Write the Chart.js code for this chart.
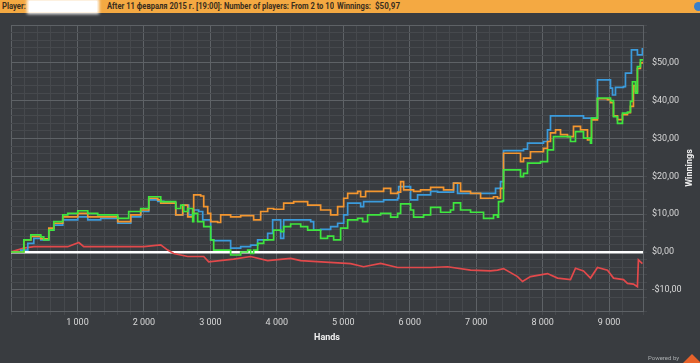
<!DOCTYPE html>
<html><head><meta charset="utf-8">
<script src="https://cdn.jsdelivr.net/npm/chart.js@4"></script>
<style>
html,body{margin:0;padding:0;background:#393c40;}
#wrap{position:relative;width:700px;height:363px;overflow:hidden;background:#393c40;}
#c{position:absolute;left:0;top:0;}
#hdr{position:absolute;left:0;top:0;width:700px;height:13px;background:#f4a942;font-family:Roboto,"Liberation Sans",sans-serif;font-size:9px;font-weight:bold;color:#3b2f1e;}
#hdr span{position:absolute;top:1px;white-space:nowrap;line-height:11px;transform-origin:0 50%;}
#box{position:absolute;left:29px;top:1px;width:68px;height:11px;background:#fff;box-shadow:0 0 3px 2px #fff;}
#icon{position:absolute;left:694px;top:2px;width:9px;height:9px;border-radius:50%;background:#3a7fc8;}
#pw{position:absolute;left:648px;top:354px;font-family:Roboto,sans-serif;font-size:6px;color:#a9acae;white-space:nowrap;}
#logo{position:absolute;left:683px;top:354px;width:0;height:0;border-left:9px solid transparent;border-right:9px solid transparent;border-bottom:9px solid #e8622a;}
</style></head>
<body>
<div id="wrap">
<canvas id="c" width="700" height="363"></canvas>
<div id="hdr">
  <span style="left:2px" data-w="24">Player:</span>
  <div id="box"></div>
  <span style="left:107px" data-w="227">After 11 февраля 2015 г. [19:00]: Number of players: From 2 to 10</span>
  <span style="left:337px" data-w="34">Winnings:</span>
  <span style="left:375px" data-w="25">$50,97</span>
  <div id="icon"></div>
</div>
<div id="pw">Powered by</div>
<div id="logo"></div>
</div>
<script>
document.querySelectorAll('#hdr span[data-w]').forEach(s => {
  const w = s.getBoundingClientRect().width;
  const t = parseFloat(s.dataset.w);
  if (w > 0) s.style.transform = 'scaleX(' + (t / w) + ')';
});

const blueHands = [0,147,253,343,448,569,644,779,1005,1155,1350,1606,1756,1802,1952,2073,2208,2298,2449,2479,2584,2674,2749,2824,2885,3005,3050,3305,3456,3606,3711,3862,3937,4040,4058,4103,4509,4554,4659,4810,4915,5006,5066,5261,5306,5607,5818,5833,6013,6118,6314,6419,6659,6720,6915,7261,7291,7366,7411,7712,7772,8013,8073,8118,8615,8750,8825,8915,9021,9051,9096,9216,9246,9336,9426,9501];
const blueWinnings = [0,0.5,2.3,3.6,3.2,5.8,7.1,8.5,9.3,8.5,8.9,7.6,7.6,9.3,10.7,13.8,13.4,12.9,12.9,9.8,12.4,9.8,11.1,10.7,8.5,3.2,3.0,1.0,1.4,1.8,3.2,4.9,8.5,8.5,3.6,8.5,8.0,5.8,6.0,6.7,7.6,9.8,12.9,12.0,13.3,13.8,14.2,17.3,13.8,15.1,16.0,15.8,18.2,15.5,15.5,15.5,16.8,18.6,26.8,27.2,28.8,29.2,32.3,36.0,35.4,35.4,45.5,45.5,43.3,41.5,43.5,43.7,47.3,53.4,52.1,53.9];

const orangeHands = [0,193,298,448,569,644,779,1005,1155,1305,1501,1606,1756,1802,1952,2073,2208,2253,2449,2479,2584,2659,2734,2749,2854,2900,2960,3005,3110,3155,3305,3456,3651,3757,3862,3952,4103,4253,4464,4659,4810,4915,5006,5066,5216,5261,5336,5517,5607,5713,5818,5863,5908,6058,6163,6314,6509,6659,6765,6915,7066,7261,7321,7366,7411,7667,7712,7817,8013,8073,8118,8194,8269,8374,8464,8570,8675,8720,8735,8825,8976,9021,9066,9126,9201,9276,9321,9366,9396,9426,9471,9501];
const orangeWinnings = [0,3.2,4.1,3.5,6.3,7.6,9.3,10.2,9.3,9.3,9.3,8.0,8.0,9.8,11.1,14.2,13.8,12.9,12.9,9.8,12.4,9.3,10.5,15.1,14.8,12.0,10.2,8.0,7.8,9.8,9.3,9.6,8.5,10.7,11.5,11.3,12.9,13.3,12.4,11.1,9.8,12.0,14.2,15.5,16.0,14.6,16.0,16.0,16.8,15.5,15.8,18.6,16.4,16.0,16.4,17.1,16.4,18.2,16.0,15.5,14.2,14.6,14.2,16.8,26.1,23.9,24.8,26.5,27.4,29.2,31.5,32.3,31.0,30.5,33.2,32.3,29.6,30.1,34.9,40.5,40.3,39.5,36.0,35.0,36.3,36.8,38.5,44.0,42.4,48.5,50.0,50.3];

const greenHands = [0,193,298,448,493,569,644,779,854,1005,1155,1305,1501,1606,1756,1771,1907,1952,2073,2208,2253,2449,2479,2554,2599,2659,2734,2749,2809,2900,3005,3050,3260,3305,3456,3561,3606,3651,3711,3802,3907,3952,4058,4103,4208,4359,4464,4614,4659,4764,4855,4960,5066,5216,5291,5366,5562,5713,5818,5863,6013,6058,6208,6314,6464,6614,6659,6765,6915,7111,7261,7321,7336,7396,7411,7667,7712,7772,7968,8073,8163,8419,8494,8615,8720,8735,8825,8976,9021,9066,9126,9201,9276,9321,9351,9396,9426,9471,9501];
const greenWinnings = [0,3.2,4.5,4.0,3.2,5.8,8.0,9.8,10.2,10.9,10.2,9.8,9.8,8.9,8.9,10.7,10.7,11.5,14.6,14.6,13.3,13.3,11.5,12.4,10.7,11.5,8.0,10.2,8.0,6.7,3.2,0.5,0.5,-0.8,0.0,0.5,-0.4,0.5,2.3,3.2,3.2,5.8,5.4,6.7,7.4,6.7,5.8,5.8,3.6,4.2,3.2,6.3,8.5,8.9,8.0,9.8,10.2,9.2,10.2,12.7,11.1,9.2,9.8,11.8,10.5,11.1,13.0,11.1,10.5,8.9,9.8,9.2,13.3,13.5,21.7,19.9,20.8,23.5,23.9,27.0,30.5,29.2,31.8,30.1,28.8,35.4,40.7,40.7,40.0,35.8,34.0,36.7,37.0,39.8,45.0,42.0,49.0,50.8,51.0];

const redHands = [0,193,343,493,854,1020,1095,1997,2253,2358,2449,2659,2900,2975,3350,3606,3862,4208,4359,4855,5111,5306,5562,5818,6314,6569,6915,7216,7321,7411,7622,7697,7817,8073,8224,8419,8494,8615,8720,8825,8976,9066,9216,9276,9366,9426,9441,9501];
const redWinnings = [0,1.0,1.4,1.4,1.4,2.5,1.4,1.4,1.9,0.5,-0.4,-1.2,-1.2,-2.6,-1.9,-1.2,-2.3,-1.7,-2.3,-2.8,-3.1,-3.9,-3.0,-4.1,-4.1,-3.9,-4.8,-5.0,-4.8,-4.4,-6.5,-7.8,-6.5,-5.7,-6.9,-7.3,-4.3,-5.0,-6.9,-4.1,-4.8,-6.9,-7.3,-8.3,-8.5,-9.2,-2.1,-3.1];

const handsMin = 0, handsMax = 9510;
const winMin = -15.6, winMax = 60;

function pts(xs, ys){ return xs.map((x,i)=>({x:x, y:ys[i]})); }

const MAJOR = '#5e6266', MINOR = '#46494d';

const yTitle = {
  id:'yTitle',
  afterDraw(chart){
    const c = chart.ctx, a = chart.chartArea;
    c.save();
    c.translate(chart.width - 10, (a.top + a.bottom)/2);
    c.rotate(-Math.PI/2);
    c.font = 'bold 9px Roboto, "Liberation Sans", sans-serif';
    c.fillStyle = '#f0f0f0';
    c.textAlign = 'center';
    c.textBaseline = 'middle';
    c.fillText('Winnings', 0, 0);
    c.restore();
  }
};

new Chart(document.getElementById('c'), {
  type:'line',
  data:{datasets:[
    {data:pts(greenHands, greenWinnings), borderColor:'#3ee63e', stepped:true},
    {data:pts(orangeHands, orangeWinnings), borderColor:'#f4962f', stepped:true},
    {data:pts(blueHands, blueWinnings), borderColor:'#3b9bdc', stepped:true},
    {data:pts(redHands, redWinnings), borderColor:'#e2494b'}
  ]},
  options:{
    responsive:false, animation:false,
    layout:{padding:{left:11, top:25, right:0, bottom:0}},
    plugins:{legend:{display:false}, tooltip:{enabled:false}},
    elements:{point:{radius:0}, line:{borderWidth:1.7, tension:0, fill:false}},
    scales:{
      x:{
        type:'linear', position:'bottom', min:handsMin, max:handsMax,
        ticks:{stepSize:200, autoSkip:false, maxRotation:0, minRotation:0, color:'#d8d8d8', padding:2,
          font:{size:9, family:'Roboto, "Liberation Sans", sans-serif'},
          callback:v => (v>0 && v%1000===0) ? (Math.floor(v/1000)+' 000') : ''},
        grid:{color:ctx => { const v = ctx.tick ? ctx.tick.value : 0; return (v%1000===0 || v===handsMax) ? MAJOR : MINOR; },
          tickLength:4, tickColor:MINOR, lineWidth:1},
        border:{color:MAJOR},
        title:{display:true, text:'Hands', color:'#f0f0f0', font:{size:9, weight:'bold', family:'Roboto, "Liberation Sans", sans-serif'}, padding:{top:0, bottom:20}},
        afterFit:s => { s.height = 52; }
      },
      y:{
        type:'linear', position:'right', min:winMin, max:winMax,
        ticks:{stepSize:2, autoSkip:false, color:'#d8d8d8', padding:5,
          font:{size:9, family:'Roboto, "Liberation Sans", sans-serif'},
          callback:v => { if (v >= winMax || Math.abs(v % 10) > 1e-6) return ''; return (v<0?'-':'') + '$' + Math.abs(v) + ',00'; }},
        grid:{color:ctx => { const v = ctx.tick ? ctx.tick.value : 1; if (Math.abs(v) < 1e-6) return '#ffffff'; return (Math.abs(v%10)<1e-6 || v===winMin) ? MAJOR : MINOR; },
          lineWidth:ctx => (ctx.tick && Math.abs(ctx.tick.value) < 1e-6) ? 2.5 : 1,
          tickLength:4, tickColor:MINOR, tickWidth:1},
        border:{color:MAJOR},
        afterFit:s => { s.width = 57; }
      }
    }
  },
  plugins:[yTitle]
});
</script>
</body></html>
